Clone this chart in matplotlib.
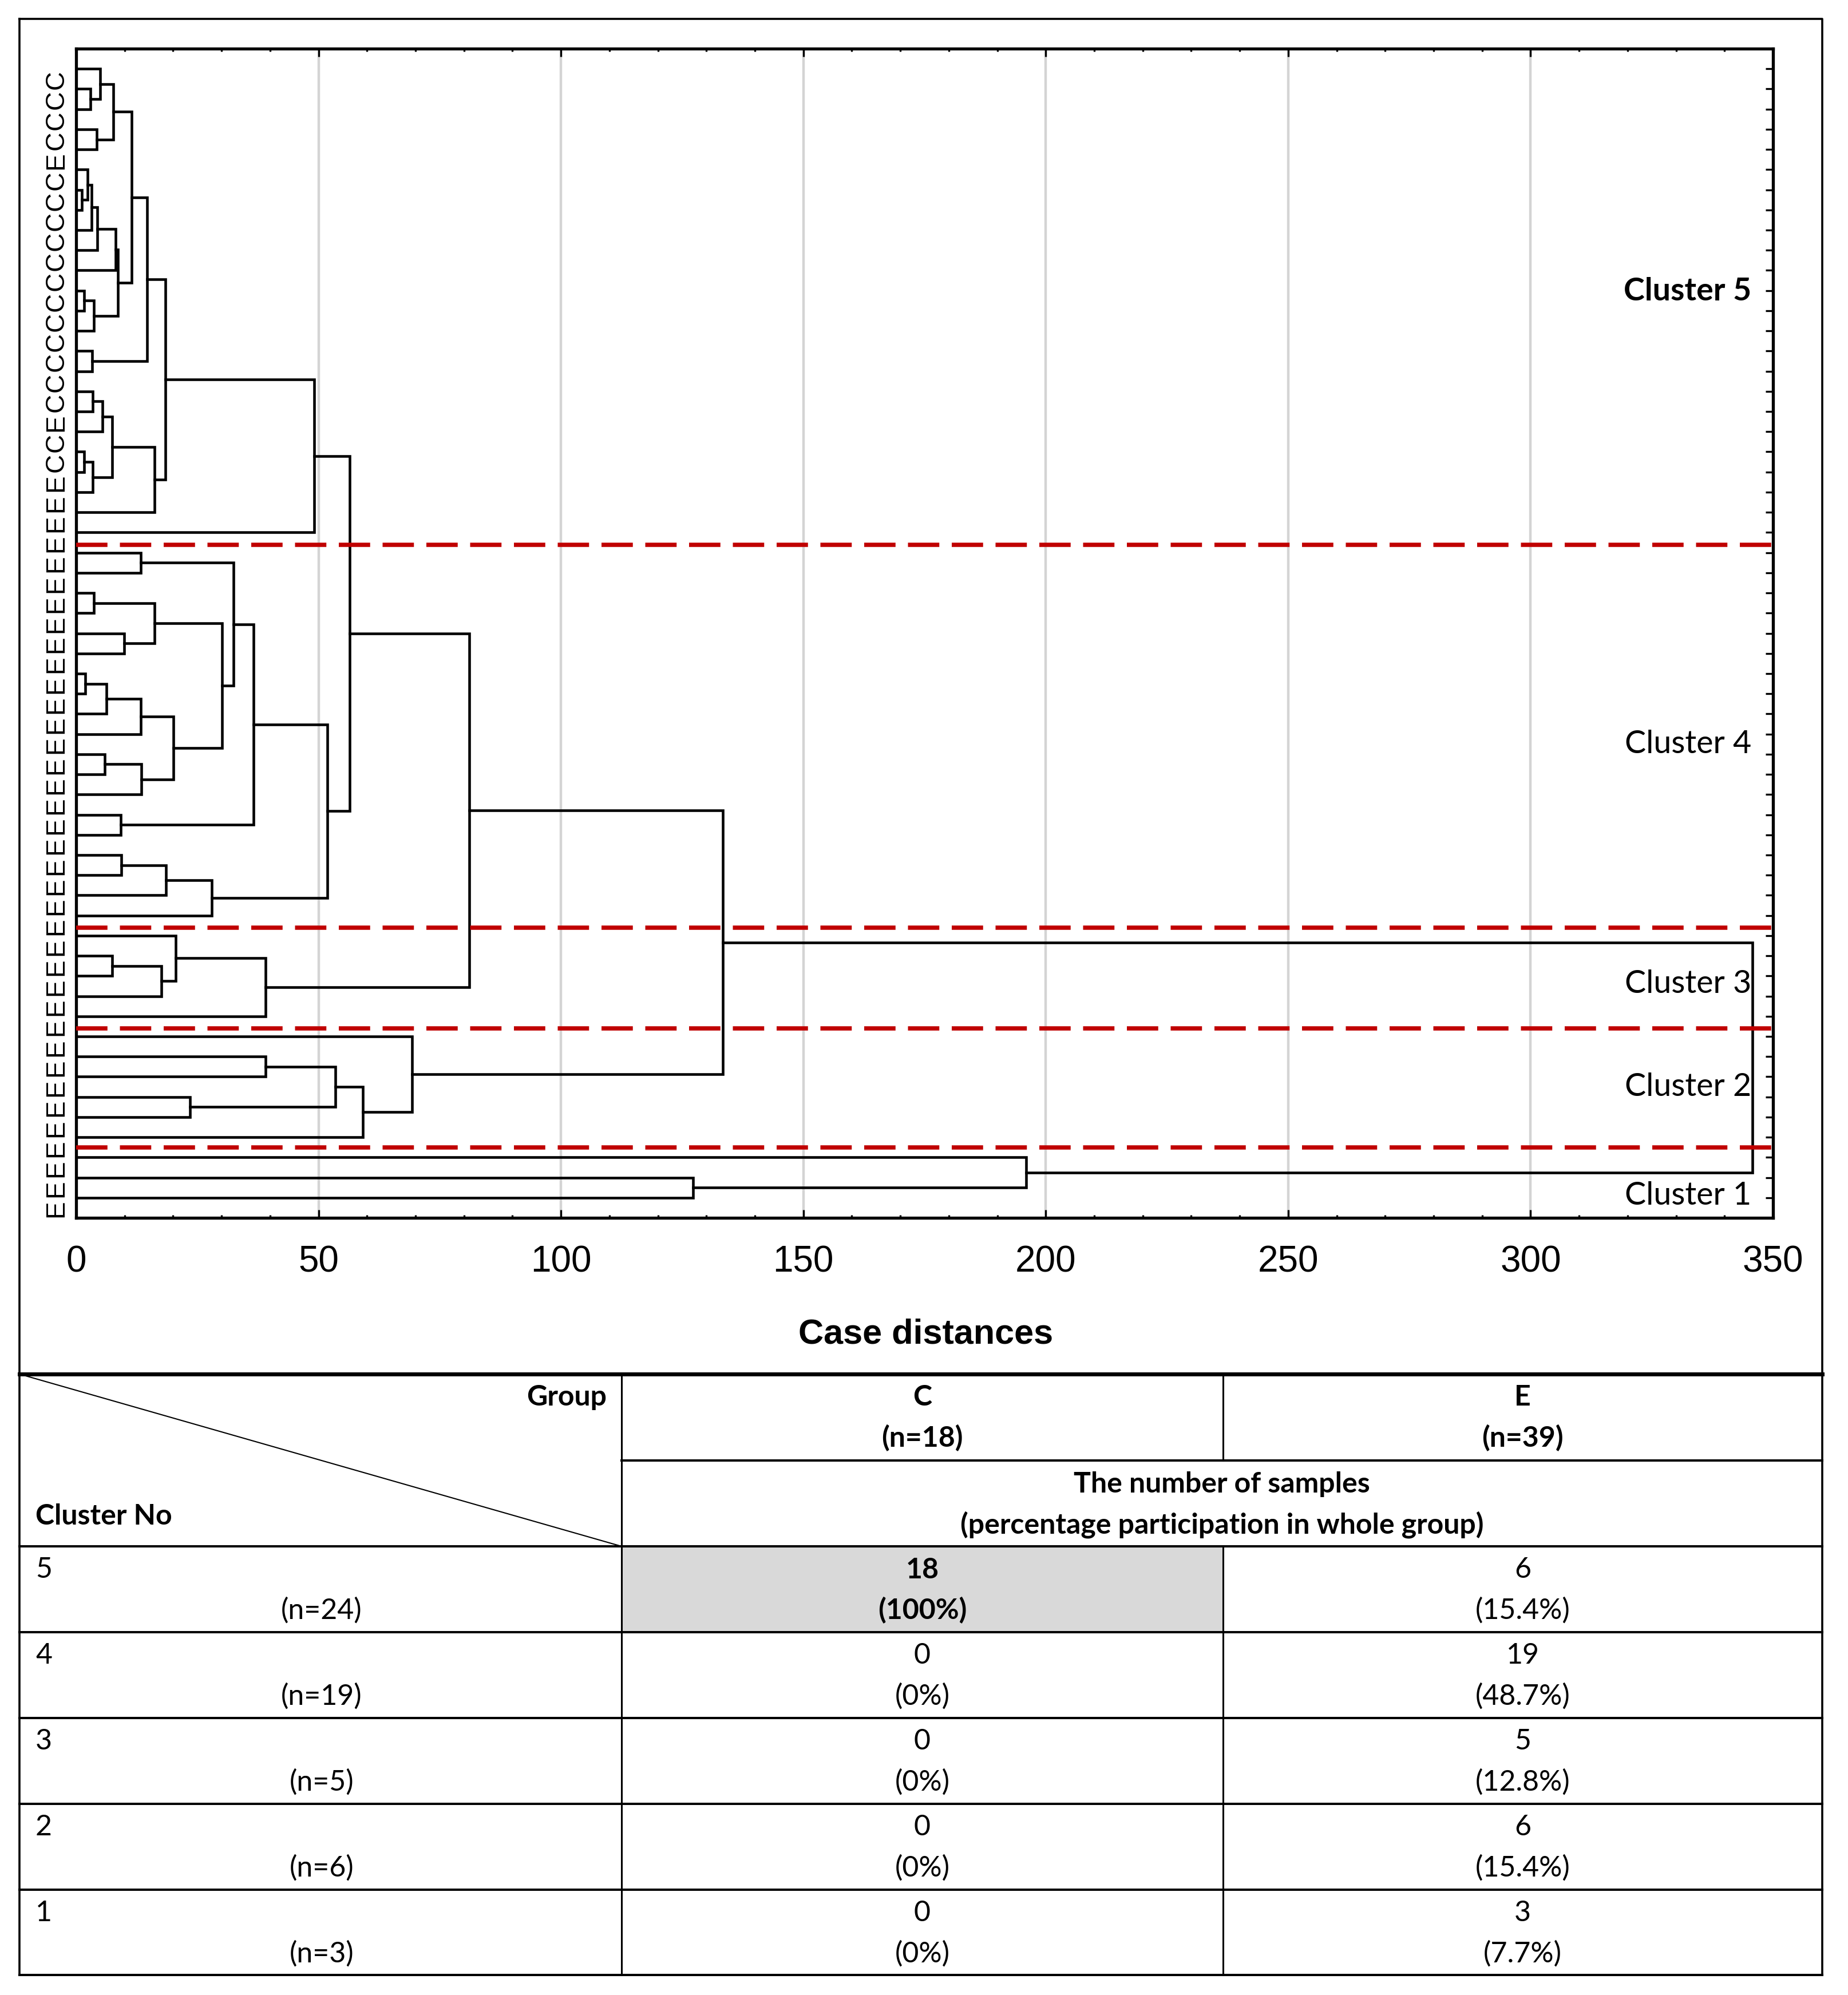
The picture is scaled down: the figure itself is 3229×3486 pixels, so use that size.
import matplotlib
matplotlib.use('Agg')
import matplotlib.pyplot as plt
from matplotlib.ticker import FixedLocator, MultipleLocator

W, H = 3230, 3486
DPI = 100

# leaf labels, top to bottom
leaf_labels = list('CCCCECCCCCCCCCCCCECCEEEE') + ['E'] * 33

# merges: (child a, child b, distance)
# leaves are 0..56 in drawing order, new nodes are numbered from 57 on
merges = [
    # cluster 5
    (1, 2, 3.0),        # 57
    (0, 57, 5.0),       # 58
    (3, 4, 4.3),        # 59
    (58, 59, 7.7),      # 60
    (6, 7, 1.2),        # 61
    (5, 61, 2.4),       # 62
    (62, 8, 3.2),       # 63
    (63, 9, 4.4),       # 64
    (64, 10, 8.1),      # 65
    (11, 12, 1.6),      # 66
    (66, 13, 3.7),      # 67
    (65, 67, 8.6),      # 68
    (60, 68, 11.4),     # 69
    (14, 15, 3.3),      # 70
    (69, 70, 14.6),     # 71
    (16, 17, 3.4),      # 72
    (72, 18, 5.4),      # 73
    (19, 20, 1.7),      # 74
    (74, 21, 3.4),      # 75
    (73, 75, 7.4),      # 76
    (76, 22, 16.2),     # 77
    (71, 77, 18.4),     # 78
    (78, 23, 49.1),     # 79
    # cluster 4
    (24, 25, 13.3),     # 80
    (26, 27, 3.7),      # 81
    (28, 29, 9.9),      # 82
    (81, 82, 16.2),     # 83
    (30, 31, 1.9),      # 84
    (84, 32, 6.2),      # 85
    (85, 33, 13.3),     # 86
    (34, 35, 5.9),      # 87
    (87, 36, 13.4),     # 88
    (86, 88, 20.1),     # 89
    (83, 89, 30.1),     # 90
    (80, 90, 32.5),     # 91
    (37, 38, 9.2),      # 92
    (91, 92, 36.6),     # 93
    (39, 40, 9.3),      # 94
    (94, 41, 18.5),     # 95
    (95, 42, 28.0),     # 96
    (93, 96, 51.8),     # 97
    (79, 97, 56.4),     # 98
    # cluster 3
    (44, 45, 7.4),      # 99
    (99, 46, 17.6),     # 100
    (43, 100, 20.5),    # 101
    (101, 47, 39.1),    # 102
    (98, 102, 81.1),    # 103
    # cluster 2
    (49, 50, 39.1),     # 104
    (51, 52, 23.5),     # 105
    (104, 105, 53.5),   # 106
    (106, 53, 59.1),    # 107
    (48, 107, 69.3),    # 108
    (103, 108, 133.4),  # 109
    # cluster 1
    (55, 56, 127.3),    # 110
    (54, 110, 195.9),   # 111
    (109, 111, 345.8),  # 112
]

# cut lines between clusters (in leaf units) and cluster names
cut_y = [24.6, 43.6, 48.6, 54.5]
cluster_names = ['Cluster 5', 'Cluster 4', 'Cluster 3', 'Cluster 2', 'Cluster 1']
cluster_label_y = [12.05, 34.5, 46.4, 51.5, 56.9]

# table under the chart
group_names = ['C', 'E']
group_n = [18, 39]
cluster_no = [5, 4, 3, 2, 1]
cluster_n = [24, 19, 5, 6, 3]
count_c = [18, 0, 0, 0, 0]
count_e = [6, 19, 5, 6, 3]
highlight = (0, 0)  # row, column of the shaded cell

ARIAL = ['Liberation Sans', 'DejaVu Sans']
CALIBRI = ['Lato', 'DejaVu Sans']


def pct(count, n):
    s = f'{100 * count / n:.1f}'.rstrip('0').rstrip('.')
    return f'({s}%)'


fig = plt.figure(figsize=(W / DPI, H / DPI), dpi=DPI)

# pixel canvas for the frame and the table
frame = fig.add_axes([0, 0, 1, 1])
frame.set_xlim(0, W)
frame.set_ylim(H, 0)
frame.axis('off')

# dendrogram axes
x0, x1, y0, y1 = 133, 3098, 85, 2128
ax = fig.add_axes([x0 / W, 1 - y1 / H, (x1 - x0) / W, (y1 - y0) / H])

n_leaves = len(leaf_labels)
node_x = [0.0] * n_leaves
node_y = [i + 1.0 for i in range(n_leaves)]
for a, b, h in merges:
    ax.plot([node_x[a], h, h, node_x[b]], [node_y[a], node_y[a], node_y[b], node_y[b]],
            color='black', lw=3.3, solid_joinstyle='miter', solid_capstyle='projecting',
            zorder=3)
    node_x.append(h)
    node_y.append((node_y[a] + node_y[b]) / 2)

for y in cut_y:
    ax.plot([0, 350], [y, y], color='#c00000', lw=5.4, dashes=(7.3, 2.9),
            solid_capstyle='butt', dash_capstyle='butt', zorder=4)

for i, (name, y) in enumerate(zip(cluster_names, cluster_label_y)):
    ax.text(345.5, y, name, ha='right', va='center', fontsize=40, family=CALIBRI,
            fontweight='bold' if i == 0 else 'normal', zorder=5)

ax.set_xlim(0, 350)
ax.set_ylim(58, 0)
ax.xaxis.set_major_locator(MultipleLocator(50))
ax.xaxis.set_minor_locator(MultipleLocator(10))
ax.grid(axis='x', which='major', color='#d4d4d4', lw=3.2)
ax.set_axisbelow(True)
for s in ax.spines.values():
    s.set_linewidth(3.8)

ax.tick_params(axis='x', which='major', direction='in', length=10, width=2.4,
               top=True, labelsize=46, pad=34)
ax.tick_params(axis='x', which='minor', direction='in', length=3.6, width=2.4, top=True)
for lab in ax.get_xticklabels():
    lab.set_family(ARIAL)

leaf_pos = node_y[:n_leaves]
ax.set_yticks([p + 0.55 for p in leaf_pos])
ax.set_yticklabels(leaf_labels, rotation=90, fontsize=33, family=ARIAL)
for lab in ax.get_yticklabels():
    lab.set_va('center')
ax.yaxis.set_minor_locator(FixedLocator(leaf_pos))
ax.tick_params(axis='y', which='major', length=0, pad=9)
ax.tick_params(axis='y', which='minor', direction='in', length=9.4, width=2.4,
               left=False, right=True)

fig.text(1618 / W, 1 - 2332 / H, 'Case distances', ha='center', va='center',
         fontsize=44, fontweight='bold', family=ARIAL)

# outer frame and the line between chart and table
L, R, T, B = 34, 3184, 33, 3451
top_tbl = 2401
frame.plot([L, R, R, L, L], [T, T, B, B, T], color='black', lw=2.6)
frame.plot([L, R], [top_tbl, top_tbl], color='black', lw=5)

col_x = [L, 1086, 2137, R]
row_h = 150
head1 = top_tbl + row_h + 1
head2 = head1 + row_h
rows_top = [head2 + i * row_h for i in range(len(cluster_no))]

# shaded cell
r, c = highlight
frame.add_patch(plt.Rectangle((col_x[c + 1], rows_top[r]), col_x[c + 2] - col_x[c + 1], row_h,
                              facecolor='#d9d9d9', edgecolor='none', zorder=0))

frame.plot([col_x[1], R], [head1, head1], color='black', lw=2.9)
for y in rows_top + [B]:
    frame.plot([L, R], [y, y], color='black', lw=2.9)
frame.plot([col_x[1], col_x[1]], [top_tbl, B], color='black', lw=2.2)
frame.plot([col_x[2], col_x[2]], [top_tbl, head1], color='black', lw=2.2)
frame.plot([col_x[2], col_x[2]], [head2, B], color='black', lw=2.2)
frame.plot([L, col_x[1]], [top_tbl, head2], color='black', lw=1.5)

TS = 36
l1, l2 = 41, 112  # offsets of the two text lines inside a cell
frame.text(col_x[1] - 26, top_tbl + l1, 'Group', ha='right', va='center',
           fontsize=TS, fontweight='bold', family=CALIBRI)
frame.text(L + 28, top_tbl + 248, 'Cluster No', ha='left', va='center',
           fontsize=TS, fontweight='bold', family=CALIBRI)
for j, (g, n) in enumerate(zip(group_names, group_n)):
    cx = (col_x[j + 1] + col_x[j + 2]) / 2
    frame.text(cx, top_tbl + l1, g, ha='center', va='center', fontsize=TS,
               fontweight='bold', family=CALIBRI)
    frame.text(cx, top_tbl + l2, f'(n={n})', ha='center', va='center', fontsize=TS,
               fontweight='bold', family=CALIBRI)
mid = (col_x[1] + col_x[3]) / 2
frame.text(mid, head1 + l1, 'The number of samples', ha='center', va='center',
           fontsize=TS, fontweight='bold', family=CALIBRI)
frame.text(mid, head1 + l2, '(percentage participation in whole group)', ha='center',
           va='center', fontsize=TS, fontweight='bold', family=CALIBRI)

for i, top in enumerate(rows_top):
    frame.text(L + 28, top + l1, str(cluster_no[i]), ha='left', va='center',
               fontsize=TS, family=CALIBRI)
    frame.text(562, top + l2, f'(n={cluster_n[i]})', ha='center', va='center',
               fontsize=TS, family=CALIBRI)
    for j, counts in enumerate([count_c, count_e]):
        cx = (col_x[j + 1] + col_x[j + 2]) / 2
        w = 'bold' if (i, j) == highlight else 'normal'
        frame.text(cx, top + l1, str(counts[i]), ha='center', va='center',
                   fontsize=TS, fontweight=w, family=CALIBRI)
        frame.text(cx, top + l2, pct(counts[i], group_n[j]), ha='center', va='center',
                   fontsize=TS, fontweight=w, family=CALIBRI)

fig.savefig('out.png', dpi=DPI)
